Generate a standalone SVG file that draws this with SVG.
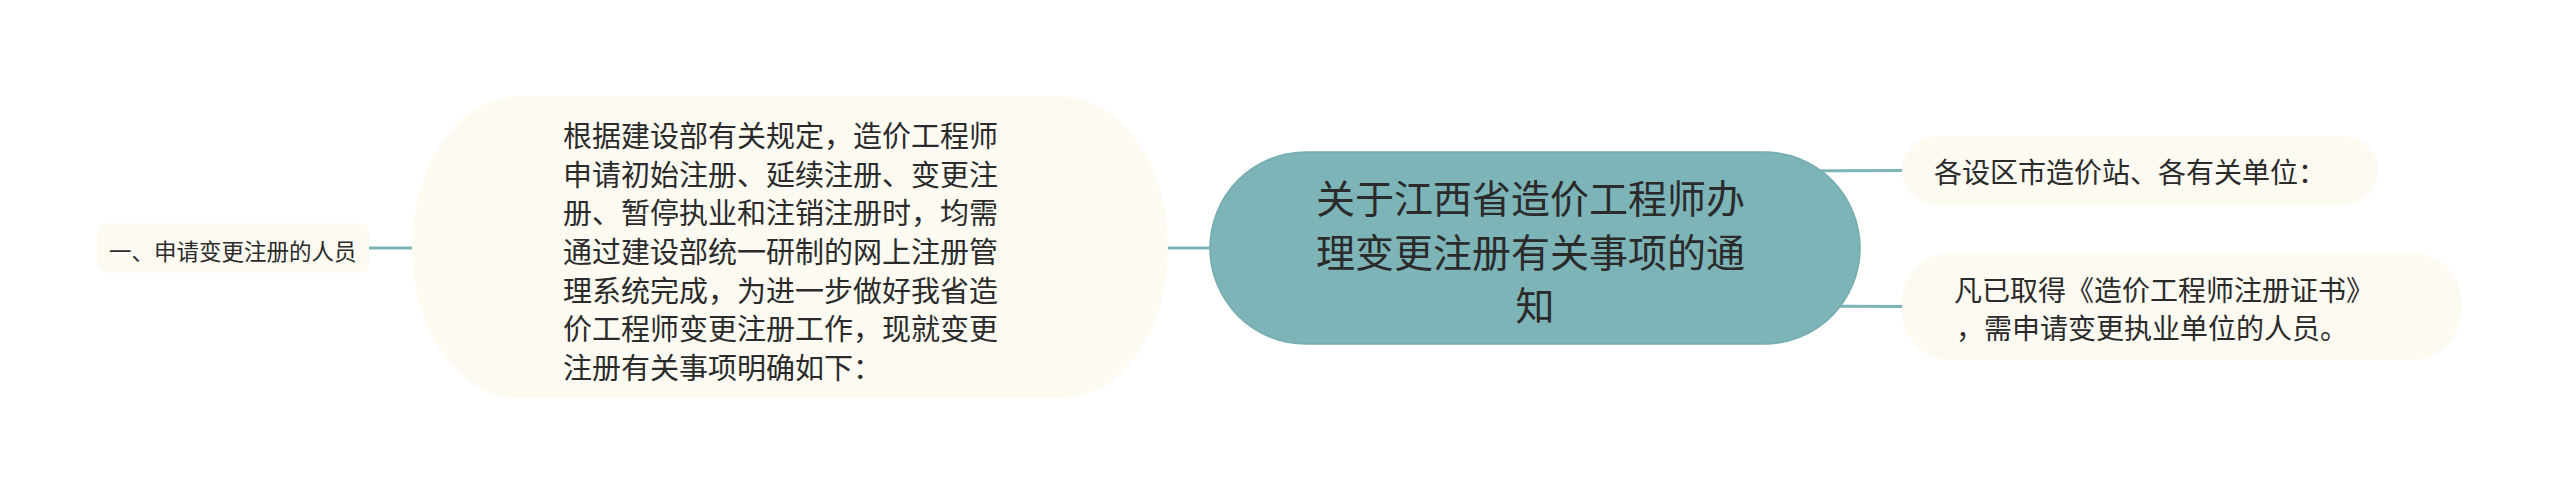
<svg xmlns="http://www.w3.org/2000/svg" width="2560" height="497" viewBox="0 0 2560 497">
<style>
.bg{fill:#ffffff}
.conn{stroke:#7cb4b7;stroke-width:3;fill:none}
.leaf{fill:#fcfaf1}
.root{fill:#7cb4b7;stroke:#74acaf;stroke-width:1.5}
text{font-family:"Noto Sans CJK SC","Noto Sans",sans-serif;fill:#2b2b2b;dominant-baseline:central}
.t22{font-size:22.5px}
.t28{font-size:28px}
.t29{font-size:29px}
.t39{font-size:39px}
</style>
<rect class="bg" x="0" y="0" width="2560" height="497"/>
<g id="connectors">
<path class="conn" d="M369,248 L420,248"/>
<path class="conn" d="M1160,248 L1220,248"/>
<path class="conn" d="M1780,171 L1903,170.5"/>
<path class="conn" d="M1780,306 L1903,306.5"/>
</g>
<g id="node-left">
<rect class="leaf" x="97" y="223" width="272" height="50" rx="10"/>
<text class="t22" x="109" y="250">一、申请变更注册的人员</text>
</g>
<g id="node-intro">
<rect class="leaf" x="412" y="97" width="756" height="301" rx="105" ry="150"/>
<text class="t29" x="563">
<tspan x="563" y="134">根据建设部有关规定，造价工程师</tspan>
<tspan x="563" y="172.7">申请初始注册、延续注册、变更注</tspan>
<tspan x="563" y="211.3">册、暂停执业和注销注册时，均需</tspan>
<tspan x="563" y="250">通过建设部统一研制的网上注册管</tspan>
<tspan x="563" y="288.7">理系统完成，为进一步做好我省造</tspan>
<tspan x="563" y="327.3">价工程师变更注册工作，现就变更</tspan>
<tspan x="563" y="366">注册有关事项明确如下：</tspan>
</text>
</g>
<g id="node-root">
<rect class="root" x="1210" y="152" width="650" height="192" rx="96"/>
<text class="t39" text-anchor="middle">
<tspan x="1535" y="196">关于江西省造价工程师办</tspan>
<tspan x="1535" y="250">理变更注册有关事项的通</tspan>
<tspan x="1535" y="303">知</tspan>
</text>
</g>
<g id="node-addressee">
<rect class="leaf" x="1902" y="136" width="476" height="69" rx="34"/>
<text class="t28" x="1934" y="171">各设区市造价站、各有关单位：</text>
</g>
<g id="node-scope">
<rect class="leaf" x="1902" y="253" width="559" height="107" rx="48"/>
<text class="t28">
<tspan x="1954" y="289">凡已取得《造价工程师注册证书》</tspan>
<tspan x="1956" y="327">，需申请变更执业单位的人员。</tspan>
</text>
</g>
</svg>
